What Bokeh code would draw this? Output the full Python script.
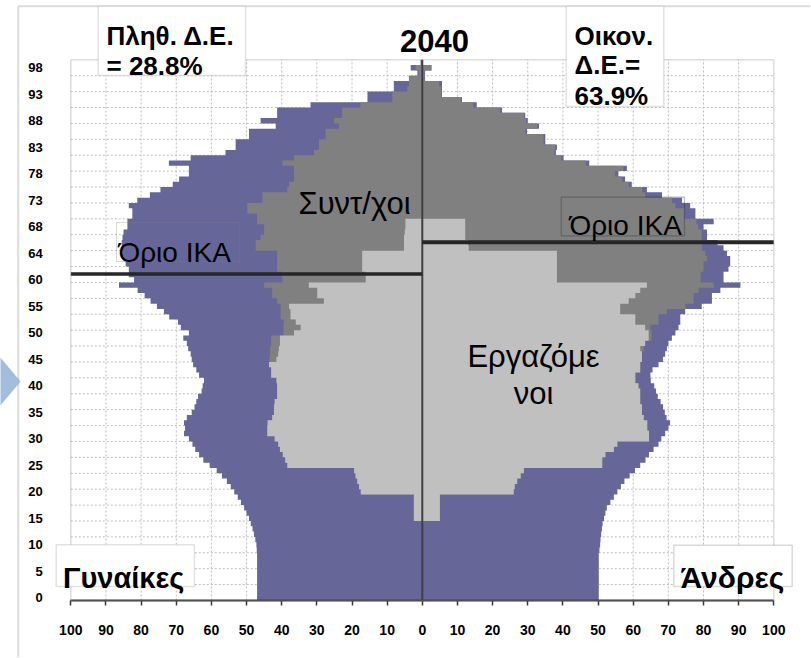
from bokeh.plotting import figure
from bokeh.models import FixedTicker, Label, BoxAnnotation, PolyAnnotation, Range1d
from bokeh.embed import file_html
from bokeh.resources import INLINE

# ---------------- data (category index 0..101, bottom to top) ----------------
age_labels = ["0", "5", "10", "15", "20", "25", "30", "35", "40", "45", "50",
              "55", "60", "64", "68", "73", "78", "83", "88", "93", "98"]

women_total = [
    47.0, 47.0, 47.0, 47.0, 47.0, 47.0, 47.0, 47.0, 47.0, 47.1,
    47.2, 47.5, 47.9, 48.3, 48.8, 49.3, 50.0, 50.7, 51.6, 52.5,
    53.5, 54.5, 55.6, 57.0, 58.5, 60.5, 62.3, 63.5, 64.6, 65.4,
    66.4, 67.8, 67.5, 67.8, 67.0, 65.6, 64.8, 64.3, 63.8, 62.8,
    62.5, 62.1, 63.5, 64.3, 65.2, 65.6, 65.9, 66.6, 67.0, 68.0,
    66.4, 68.7, 69.5, 72.0, 73.5, 75.5, 77.3, 79.0, 81.0, 86.3,
    82.0, 83.5, 83.5, 84.4, 85.0, 85.3, 85.5, 85.5, 85.3, 85.0,
    83.9, 83.9, 82.5, 82.5, 83.5, 81.1, 77.5, 74.5, 71.0, 69.2,
    66.4, 66.4, 72.1, 65.9, 56.0, 53.1, 53.1, 49.3, 49.3, 41.7,
    46.0, 41.3, 41.3, 31.8, 15.6, 15.6, 8.1, 8.1, 3.8, 1.4,
    3.3, 0.5]

women_retired_plus_workers = [
    0, 0, 0, 0, 0, 0, 0, 0, 0, 0,
    0, 0, 0, 0, 0, 2.4, 2.4, 2.4, 2.4, 2.4,
    17.5, 18.0, 18.5, 19.0, 19.4, 38.4, 39.0, 39.7, 40.5, 41.0,
    42.0, 44.1, 44.1, 44.0, 42.7, 42.2, 42.2, 42.0, 41.3, 41.3,
    41.3, 41.5, 43.0, 43.0, 43.6, 43.5, 43.3, 43.3, 43.0, 43.0,
    39.5, 39.5, 39.4, 40.3, 40.3, 40.3, 41.3, 42.7, 42.7, 45.0,
    39.8, 39.8, 41.3, 41.3, 41.3, 41.3, 47.4, 47.4, 46.0, 45.0,
    45.0, 47.0, 47.0, 49.8, 49.8, 45.5, 45.5, 38.4, 37.9, 36.5,
    36.5, 36.5, 39.8, 36.5, 30.8, 29.4, 29.4, 27.5, 27.5, 23.7,
    25.1, 22.8, 22.8, 17.6, 8.5, 8.5, 4.3, 3.8, 3.8, 1.0,
    1.9, 0.0]

women_workers = [
    0, 0, 0, 0, 0, 0, 0, 0, 0, 0,
    0, 0, 0, 0, 0, 2.4, 2.4, 2.4, 2.4, 2.4,
    17.5, 18.0, 18.5, 19.0, 19.4, 38.4, 39.0, 39.7, 40.5, 41.0,
    42.0, 44.1, 44.1, 44.0, 42.7, 42.2, 42.2, 42.0, 41.3, 41.3,
    41.3, 41.5, 43.0, 43.0, 43.6, 41.5, 41.0, 40.8, 40.5, 40.5,
    36.5, 34.6, 36.0, 37.5, 37.5, 37.9, 28.0, 29.9, 29.9, 32.3,
    16.1, 16.1, 17.1, 17.1, 17.1, 17.1, 5.2, 5.2, 5.2, 5.0,
    4.8, 4.8, 0, 0, 0, 0, 0, 0, 0, 0,
    0, 0, 0, 0, 0, 0, 0, 0, 0, 0,
    0, 0, 0, 0, 0, 0, 0, 0, 0, 0,
    0, 0]

men_total = [
    50.2, 50.2, 50.2, 50.2, 50.2, 50.2, 50.2, 50.2, 50.2, 50.4,
    50.6, 50.7, 50.9, 51.1, 51.3, 51.7, 52.1, 52.5, 53.5, 54.5,
    55.5, 56.5, 57.5, 59.0, 60.5, 62.0, 63.5, 64.5, 65.8, 67.2,
    68.0, 69.1, 70.0, 70.5, 69.5, 69.0, 68.5, 67.8, 67.0, 66.5,
    66.0, 65.0, 64.9, 65.5, 67.2, 68.5, 69.1, 69.6, 70.0, 71.0,
    72.0, 72.9, 73.4, 73.4, 74.8, 79.5, 82.4, 82.4, 84.8, 90.5,
    85.7, 85.7, 87.1, 87.6, 87.6, 86.7, 85.7, 84.0, 81.0, 81.0,
    80.0, 82.9, 77.7, 77.7, 76.2, 73.9, 68.2, 63.9, 59.6, 57.7,
    55.8, 58.2, 47.5, 40.2, 38.0, 38.3, 35.0, 35.0, 29.8, 33.2,
    30.0, 29.3, 22.7, 15.5, 11.3, 5.6, 5.6, 5.6, 0.8, 0.8,
    2.6, 0.0]

men_retired_plus_workers = [
    0, 0, 0, 0, 0, 0, 0, 0, 0, 0,
    0, 0, 0, 0, 0, 5.0, 5.0, 5.0, 5.0, 5.0,
    26.0, 26.3, 27.0, 28.0, 28.9, 51.2, 51.2, 52.1, 54.5, 55.5,
    64.5, 64.5, 64.0, 64.0, 63.0, 62.5, 62.5, 62.0, 62.0, 62.0,
    61.5, 60.6, 60.6, 62.0, 62.0, 62.5, 62.5, 63.0, 63.4, 65.2,
    65.2, 64.9, 67.2, 67.2, 69.6, 74.8, 77.2, 77.2, 78.6, 82.9,
    79.2, 79.2, 80.0, 80.0, 81.0, 80.5, 79.5, 79.5, 79.5, 79.5,
    78.5, 78.0, 74.5, 74.5, 72.0, 71.0, 63.4, 62.5, 58.7, 56.8,
    54.8, 57.2, 46.5, 39.5, 37.5, 37.8, 34.5, 34.5, 29.3, 32.7,
    29.5, 29.0, 22.2, 14.5, 11.0, 5.4, 5.4, 4.8, 0.6, 0.6,
    2.6, 0.0]

men_workers = [
    0, 0, 0, 0, 0, 0, 0, 0, 0, 0,
    0, 0, 0, 0, 0, 5.0, 5.0, 5.0, 5.0, 5.0,
    26.0, 26.3, 27.0, 28.0, 28.9, 51.2, 51.2, 52.1, 54.5, 55.5,
    64.5, 64.5, 64.0, 64.0, 63.0, 62.5, 62.5, 62.0, 62.0, 62.0,
    61.5, 60.6, 60.6, 62.0, 62.0, 62.5, 62.5, 62.0, 63.4, 64.4,
    64.4, 63.4, 60.6, 60.6, 56.3, 56.3, 58.7, 60.6, 62.0, 63.9,
    38.3, 38.3, 38.3, 38.3, 38.3, 38.3, 13.2, 13.0, 12.2, 12.2,
    12.2, 12.2, 0, 0, 0, 0, 0, 0, 0, 0,
    0, 0, 0, 0, 0, 0, 0, 0, 0, 0,
    0, 0, 0, 0, 0, 0, 0, 0, 0, 0,
    0, 0]

ika_women = 61.6   # retirement-limit line (category units), women
ika_men = 67.6     # retirement-limit line (category units), men

# ---------------- figure: frame covers the whole canvas ----------------
n = len(women_total)
W, H = 810, 657
AREA_L, AREA_T, AREA_W, AREA_H = 70.3, 59.3, 703.0, 540.7   # plot-area position in pixels
PX = AREA_W / 200.0
PY = AREA_H / n
FONT = "Liberation Sans"

x_range = Range1d(-100 - AREA_L / PX, -100 + (W - AREA_L) / PX)
y_range = Range1d((AREA_T + AREA_H - H) / PY, (AREA_T + AREA_H) / PY)

p = figure(frame_width=W, frame_height=H, min_border=0,
           x_range=x_range, y_range=y_range,
           output_backend="svg", toolbar_location=None,
           background_fill_color="white", border_fill_color="white")
p.outline_line_color = None
p.xgrid.visible = False
p.ygrid.visible = False

C = dict(left_units="canvas", right_units="canvas", top_units="canvas", bottom_units="canvas")

# chart-area border and arrow
p.add_layout(BoxAnnotation(left=17.7, right=1500, top=5.7, bottom=1500, **C,
                           fill_alpha=0, line_color="#8A8A8A", line_width=2))
p.add_layout(PolyAnnotation(xs=[-30, 19.5, -30], ys=[322, 381, 440],
                            xs_units="canvas", ys_units="canvas",
                            fill_color="#A3BEDC", fill_alpha=1, line_color="#7898C2", line_width=1.5))

# plot-area gridlines (dashed)
vg = [t for t in range(-90, 100, 10) if t != 0]
p.segment(x0=vg, x1=vg, y0=[0] * len(vg), y1=[n] * len(vg),
          line_color="#BDBDBD", line_dash="2 2", line_width=1, level="underlay")
hg = list(range(3, n, 3))
p.segment(x0=[-100] * len(hg), x1=[100] * len(hg), y0=hg, y1=hg,
          line_color="#BDBDBD", line_dash="2 2", line_width=1, level="underlay")


def step_polygon(vals, sign):
    xs, ys = [0], [0]
    for i, v in enumerate(vals):
        xs += [sign * v, sign * v]
        ys += [i, i + 1]
    xs.append(0)
    ys.append(len(vals))
    return xs, ys


for vals, sign, col in ((women_total, -1, "#666699"), (women_retired_plus_workers, -1, "#808080"),
                        (women_workers, -1, "#C0C0C0"), (men_total, 1, "#666699"),
                        (men_retired_plus_workers, 1, "#808080"), (men_workers, 1, "#C0C0C0")):
    xs, ys = step_polygon(vals, sign)
    p.patch(x=xs, y=ys, fill_color=col, line_color=None)

# plot-area border
p.add_layout(BoxAnnotation(left=-100, right=100, bottom=0, top=n, fill_alpha=0,
                           line_color="#8C8C8C", line_width=1.5))

# centre line and retirement-limit lines
p.segment(x0=[0], x1=[0], y0=[0], y1=[n], line_color="#404040", line_width=2)
p.segment(x0=[-100], x1=[0], y0=[ika_women], y1=[ika_women], line_color="#262626", line_width=3.5)
p.segment(x0=[0], x1=[100], y0=[ika_men], y1=[ika_men], line_color="#262626", line_width=4)

# axes, drawn at fixed data locations inside the canvas
xt = list(range(-100, 101, 10))
xa = p.xaxis[0]
xa.fixed_location = 0
xa.bounds = (-100, 100)
xa.ticker = FixedTicker(ticks=xt)
xa.major_label_overrides = {t: str(abs(t)) for t in xt}
xa.axis_line_color = "#3A3A3A"
xa.axis_line_width = 2
xa.major_tick_line_color = "#3A3A3A"
xa.major_tick_line_width = 1.5
xa.major_tick_out = 5
xa.major_tick_in = 0
xa.minor_tick_line_color = None
xa.major_label_standoff = 19
xa.major_label_text_font = FONT
xa.major_label_text_font_style = "bold"
xa.major_label_text_font_size = "14px"
xa.major_label_text_color = "black"

yt = [k + 0.5 for k in range(0, 101, 5)]
ya = p.yaxis[0]
ya.fixed_location = -100
ya.bounds = (0, n)
ya.ticker = FixedTicker(ticks=yt)
ya.major_label_overrides = {t: lab for t, lab in zip(yt, age_labels)}
ya.axis_line_color = None
ya.major_tick_line_color = None
ya.minor_tick_line_color = None
ya.major_label_standoff = 22
ya.major_label_text_font = FONT
ya.major_label_text_font_style = "bold"
ya.major_label_text_font_size = "13px"
ya.major_label_text_color = "black"


def box(x0, x1, y0, y1, fill, lc, lw=1.0):
    p.add_layout(BoxAnnotation(left=x0, right=x1, top=y0, bottom=y1, **C,
                               fill_color=fill if fill else "white", fill_alpha=1 if fill else 0,
                               line_color=lc, line_width=lw))


box(97.7, 245, 5.7, 75, "white", "#A0A0A0", 1.5)
box(565.7, 663.3, 5.7, 106, "white", "#A0A0A0", 1.5)
box(116, 239.3, 222, 261, None, "#808080", 1)
box(560.7, 684, 196.7, 235.3, None, "#262626", 1.2)
box(55.7, 194, 544.3, 586, "white", "#A0A0A0", 1.5)
box(673.3, 791.7, 544.7, 586, "white", "#808080", 1.5)


def lab(text, rx, ry, size, bold=False, align="left"):
    p.add_layout(Label(x=rx, y=ry, x_units="canvas", y_units="canvas", text=text,
                       text_font=FONT, text_font_size=size,
                       text_font_style="bold" if bold else "normal", text_align=align,
                       text_baseline="alphabetic", text_color="black"))


lab("2040", 434, 40, "31px", True, "center")
lab("Πληθ. Δ.Ε.", 106, 35, "26px", True)
lab("= 28.8%", 106, 65, "26px", True)
lab("Οικον.", 574, 35, "26px", True)
lab("Δ.Ε.=", 574, 64, "26px", True)
lab("63.9%", 574, 95, "26px", True)
lab("Όριο ΙΚΑ", 118, 251.7, "28px")
lab("Όριο ΙΚΑ", 569, 225, "28px")
lab("Συντ/χοι", 298, 203.3, "31px")
lab("Εργαζόμε", 533, 356, "31px", False, "center")
lab("νοι", 533, 393.3, "31px", False, "center")
lab("Γυναίκες", 62.5, 577, "29px", True)
lab("Άνδρες", 680, 576.5, "30px", True)

open("out.html", "w").write(file_html(p, INLINE))
